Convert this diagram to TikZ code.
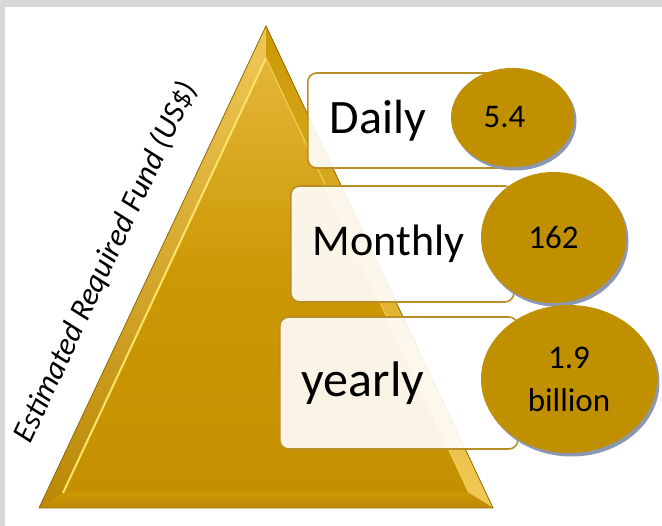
\documentclass[tikz,border=0pt]{standalone}
\usepackage{fontspec}
\setmainfont{Carlito}
\usetikzlibrary{shapes.geometric,shadows}
\definecolor{framegray}{RGB}{216,216,216}
\definecolor{disc}{RGB}{192,144,0}
\definecolor{discshadow}{RGB}{140,152,178}
\definecolor{boxline}{RGB}{184,142,40}
\definecolor{goldtop}{RGB}{228,182,56}
\definecolor{goldmid}{RGB}{204,152,4}
\definecolor{goldlow}{RGB}{196,144,0}
\definecolor{facetlight}{RGB}{240,200,86}
\definecolor{facetdark}{RGB}{186,136,6}
\definecolor{gleam}{RGB}{255,228,104}
\definecolor{rim}{RGB}{150,108,0}
\begin{document}
\begin{tikzpicture}[x=1pt,y=-1pt,
	stage/.style={draw=boxline,line width=1.6pt,rounded corners=9pt,fill=white,fill opacity=0.9,text opacity=1,inner xsep=22pt,align=left,anchor=west},
	fund/.style={ellipse,fill=disc,inner sep=0pt,align=center,font=\fontsize{33}{43}\selectfont,drop shadow={shadow xshift=2.5pt,shadow yshift=-3.5pt,fill=discshadow,opacity=1}}]
	% frame
	\fill[framegray] (0,0) rectangle (662,526);
	\fill[white] (5,7) rectangle (662,526);
	\useasboundingbox (0,0) rectangle (662,526);
	% pyramid
	\coordinate (apex) at (266,26);
	\coordinate (bl) at (39,508);
	\coordinate (br) at (493,508);
	\coordinate (iapex) at (266,58);
	\coordinate (ibl) at (63,493);
	\coordinate (ibr) at (469,493);
	\fill[facetdark] (apex)--(bl)--(br)--cycle;
	\shade[top color=facetlight,bottom color=facetdark] (apex)--(bl)--(ibl)--(iapex)--cycle;
	\shade[top color=goldmid,bottom color=facetlight] (apex)--(iapex)--(ibr)--(br)--cycle;
	\shade[top color=goldmid,bottom color=facetdark] (bl)--(br)--(ibr)--(ibl)--cycle;
	\shade[top color=goldtop,bottom color=goldlow,middle color=goldmid] (iapex)--(ibl)--(ibr)--cycle;
	\draw[gleam,line width=2pt] (iapex)--(ibl);
	\draw[gleam!70!goldmid,line width=1.2pt] (iapex)--(ibr);
	\draw[rim,line width=0.8pt] (apex)--(bl)--(br)--cycle;
	\node[rotate=65,anchor=base,font=\itshape\fontsize{31.5}{36}\selectfont] (fundaxis) at (114,266) {Estimated Required Fund (US\$)};
	% periods
	\node[stage,minimum width=208pt,minimum height=95pt,text width=164pt,font=\fontsize{48}{56}\selectfont] (daily) at (307,120.5) {Daily};
	\node[stage,minimum width=223pt,minimum height=116pt,text width=179pt,font=\fontsize{44}{53}\selectfont] (monthly) at (290,244) {Monthly};
	\node[stage,minimum width=238pt,minimum height=132pt,text width=194pt,font=\fontsize{50}{60}\selectfont] (yearly) at (279,383) {yearly};
	% amounts
	\node[fund,minimum width=123pt,minimum height=99pt] (dailyfund) at (512.5,117.5) {5.4\kern16pt};
	\node[fund,minimum width=145pt,minimum height=131pt] (monthlyfund) at (553.5,237.5) {162};
	\node[fund,minimum width=176pt,minimum height=148pt] (yearlyfund) at (569,379) {1.9\\billion};
\end{tikzpicture}
\end{document}
